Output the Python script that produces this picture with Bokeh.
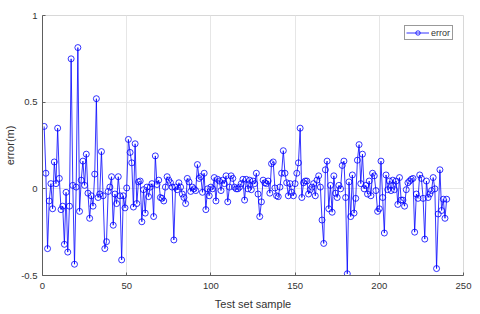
from bokeh.plotting import figure
from bokeh.models import Range1d
from bokeh.embed import file_html
from bokeh.resources import INLINE

sample = list(range(1, 241))
error = [
    0.36, 0.09, -0.345, -0.07, 0.03, -0.115, 0.155, 0.03, 0.35, 0.06,
    -0.12, -0.1, -0.32, -0.02, -0.365, -0.1, 0.75, 0.02, -0.435, 0.01,
    0.815, -0.13, 0.05, 0.16, 0.02, 0.2, -0.025, -0.17, -0.04, -0.1,
    0.085, 0.52, -0.05, -0.03, 0.215, -0.04, -0.345, -0.305, -0.015, 0.01,
    0.07, -0.21, -0.03, -0.085, 0.07, -0.04, -0.41, -0.04, -0.11, 0.005,
    0.285, 0.21, 0.15, -0.105, 0.26, -0.085, 0.04, 0.045, -0.19, -0.005,
    -0.14, 0.01, -0.045, 0.01, 0.03, -0.16, 0.19, 0.025, 0.05, -0.05,
    -0.055, -0.07, 0.01, 0.07, 0.05, 0.035, 0.01, -0.295, 0.01, -0.005,
    0.035, 0.01, -0.03, -0.05, -0.085, 0.06, 0.04, -0.015, 0.01, 0.0,
    -0.01, 0.14, 0.06, 0.07, -0.02, 0.09, -0.12, 0.0, -0.04, 0.01,
    0.0, 0.065, -0.07, 0.055, 0.045, -0.01, 0.05, 0.03, 0.075, -0.075,
    0.01, 0.075, 0.06, 0.01, 0.0, 0.0, 0.01, 0.03, 0.055, -0.065,
    0.055, 0.0, 0.05, -0.005, 0.045, 0.03, 0.09, -0.03, -0.16, -0.075,
    0.05, 0.035, 0.03, 0.045, -0.025, 0.145, 0.155, 0.005, -0.04, -0.045,
    0.01, 0.09, 0.22, 0.09, 0.035, -0.04, 0.03, -0.02, -0.04, 0.03,
    0.09, 0.15, 0.35, -0.05, 0.035, 0.045, 0.045, -0.03, -0.005, 0.01,
    0.03, -0.04, 0.05, 0.075, 0.01, -0.18, -0.315, 0.11, 0.16, -0.115,
    0.02, -0.135, 0.075, -0.025, -0.05, 0.02, 0.0, 0.135, 0.16, -0.05,
    -0.49, 0.04, -0.16, 0.08, -0.14, -0.055, 0.165, 0.255, 0.03, 0.2,
    0.0, 0.02, -0.03, 0.045, -0.04, 0.09, 0.075, -0.01, -0.13, -0.115,
    0.16, -0.05, -0.255, 0.08, -0.005, 0.045, -0.01, 0.05, -0.005, 0.045,
    -0.09, 0.065, -0.065, -0.065, -0.1, -0.005, 0.035, 0.045, 0.055, 0.06,
    -0.25, -0.03, -0.055, 0.08, 0.06, -0.055, -0.29, 0.045, -0.05, -0.03,
    -0.01, 0.065, 0.0, -0.46, -0.145, 0.11, -0.125, -0.06, -0.17, -0.06,
]
x_ticks = [0, 50, 100, 150, 200, 250]
y_ticks = [-0.5, 0, 0.5, 1]
y_tick_labels = ["-0.5", "0", "0.5", "1"]

FONT = "Liberation Sans"
BLUE = "#0000ff"

p = figure(width=472, height=312, output_backend="svg", toolbar_location=None,
           x_range=Range1d(0, 250), y_range=Range1d(-0.5, 1),
           min_border_left=42, min_border_right=9, min_border_top=15,
           min_border_bottom=30)
p.background_fill_color = "white"
p.border_fill_color = "white"
p.outline_line_color = "#d8d8d8"
p.outline_line_width = 1

p.line(sample, error, line_color=BLUE, line_width=0.8, legend_label="error")
p.scatter(sample, error, marker="circle", size=6, fill_color=None,
          line_color=BLUE, line_width=0.8, legend_label="error")

p.xaxis.ticker = x_ticks
p.yaxis.ticker = y_ticks
p.yaxis.major_label_overrides = {t: l for t, l in zip(y_ticks, y_tick_labels)}

for ax in (p.xaxis[0], p.yaxis[0]):
    ax.axis_line_color = "#5e5e5e"
    ax.axis_line_width = 1
    ax.major_tick_in = 3
    ax.major_tick_out = 0
    ax.major_tick_line_color = "#5e5e5e"
    ax.minor_tick_line_color = None
    ax.major_label_text_font = FONT
    ax.major_label_text_font_size = "9.5px"
    ax.major_label_text_color = "#333333"
    ax.axis_label_text_font = FONT
    ax.axis_label_text_font_size = "11px"
    ax.axis_label_text_font_style = "normal"
    ax.axis_label_text_color = "#333333"

p.xaxis.major_label_standoff = 7
p.xaxis.axis_label_standoff = 6
p.yaxis.major_label_standoff = 5
p.yaxis.axis_label_standoff = 2

p.xaxis.axis_label = "Test set sample"
p.yaxis.axis_label = "error(m)"

p.grid.grid_line_color = "#e6e6e6"
p.grid.grid_line_width = 1

lg = p.legend[0]
lg.location = "top_right"
lg.margin = 10
lg.padding = 1
lg.spacing = 0
lg.label_standoff = 2
lg.glyph_width = 23
lg.glyph_height = 11
lg.label_height = 11
lg.label_text_font = FONT
lg.label_text_font_size = "9px"
lg.label_text_color = "#333333"
lg.border_line_color = "#333333"
lg.border_line_width = 0.8
lg.background_fill_color = "white"
lg.background_fill_alpha = 1

open("out.html", "w").write(file_html(p, INLINE))
